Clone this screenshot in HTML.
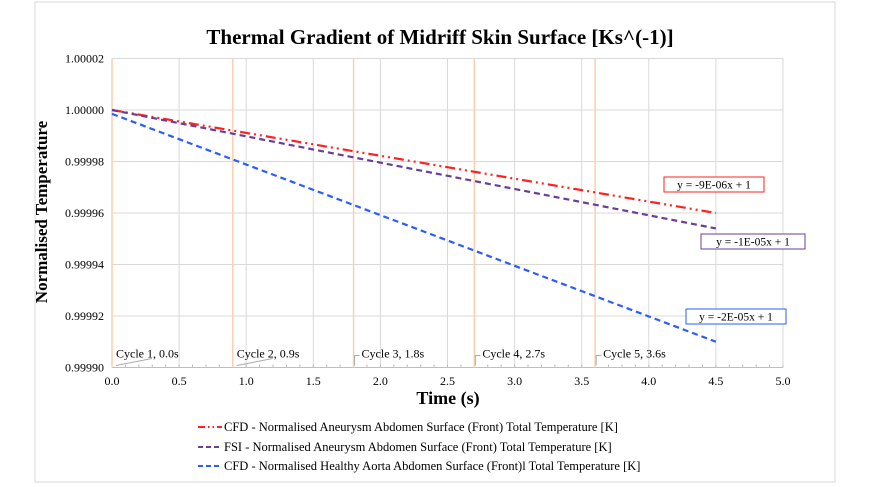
<!DOCTYPE html>
<html><head><meta charset="utf-8"><style>
body{margin:0;background:#fff;}
svg{display:block;font-family:"Liberation Serif",serif;}
</style></head><body>
<svg id="c" width="869" height="487">
<rect x="35" y="2" width="800" height="480" fill="#fff" stroke="#d9d9d9"/>
<text x="440" y="44" text-anchor="middle" font-size="21" font-weight="bold">Thermal Gradient of Midriff Skin Surface [Ks^(-1)]</text>
<text x="448" y="404" text-anchor="middle" font-size="18" font-weight="bold">Time (s)</text>
<text transform="translate(47,212) rotate(-90)" text-anchor="middle" font-size="17" font-weight="bold">Normalised Temperature</text>
<g id="grid"></g><g id="marks"></g><g id="legend"></g>
</svg>
<script>
const xTicks=[0,0.5,1,1.5,2,2.5,3,3.5,4,4.5,5];
const yTicks=[0.99990,0.99992,0.99994,0.99996,0.99998,1.00000,1.00002];
const cycleTimes=[0,0.9,1.8,2.7,3.6];
const cycleLabels=["Cycle 1, 0.0s","Cycle 2, 0.9s","Cycle 3, 1.8s","Cycle 4, 2.7s","Cycle 5, 3.6s"];
const seriesNames=["CFD - Normalised Aneurysm Abdomen Surface (Front) Total Temperature [K]","FSI - Normalised Aneurysm Abdomen Surface (Front) Total Temperature [K]","CFD - Normalised Healthy Aorta Abdomen Surface (Front)l Total Temperature [K]"];
const seriesX=[[0,4.5],[0,4.5],[0,4.5]];
const seriesY=[[1.0,0.999960],[1.0,0.999954],[0.9999985,0.99991]];
const trendLabels=["y = -9E-06x + 1","y = -1E-05x + 1","y = -2E-05x + 1"];
const colors=["#ff2020","#6a3d9a","#2a5cff"];
const dashes=["10,4,2,4,2,4","6,4","6,4"];
const NS="http://www.w3.org/2000/svg";
const X=v=>112+(v-0)/5*671;
const Y=v=>367.5-(v-0.9999)/0.00012*309;
function mk(t,a,p){const e=document.createElementNS(NS,t);for(const k in a)e.setAttribute(k,a[k]);p.appendChild(e);return e;}
const g=document.getElementById('grid'),m=document.getElementById('marks'),lg=document.getElementById('legend');
xTicks.forEach(v=>{
 const l=mk('line',{x1:X(v),x2:X(v),y1:Y(1.00002),y2:Y(0.9999),stroke:'#d9d9d9'},g);
 
 const t=mk('text',{x:X(v),y:385,'text-anchor':'middle','font-size':12},g);t.textContent=v.toFixed(1);
 
});
for(let v=0;v<=5.001;v+=0.1){const l=mk('line',{x1:X(v),x2:X(v),y1:Y(0.9999)-3,y2:Y(0.9999),stroke:'#bbb'},g);
 }
yTicks.forEach(v=>{
 const l=mk('line',{x1:X(0),x2:X(5),y1:Y(v),y2:Y(v),stroke:v===0.9999?'#bfbfbf':'#d9d9d9'},g);
 
 const t=mk('text',{x:104,y:Y(v)+4,'text-anchor':'end','font-size':12},g);t.textContent=v.toFixed(5);
 
});
cycleTimes.forEach((c,i)=>{
 const l=mk('line',{x1:X(c),x2:X(c),y1:Y(1.00002),y2:Y(0.9999),stroke:'#fbcfb2','stroke-width':1.5},g);
 
 const cl=mk('path',{d:i<2?`M${X(c)+4} ${Y(0.9999)-2} L${X(c)+40} ${Y(0.9999)-9}`:`M${X(c)+1} ${Y(0.9999)-2} V${Y(0.9999)-12} H${X(c)+6}`,stroke:'#aaa',fill:'none'},g);
 
 const t=mk('text',{x:X(c)+(i<2?4:8),y:Y(0.9999)-10,'font-size':12},g);t.textContent=cycleLabels[i];
 
});
const boxPos=[[664,177,100],[701,234,104],[686,309,100]];
seriesX.forEach((xs,i)=>{
 const pts=xs.map((x,j)=>X(x)+','+Y(seriesY[i][j])).join(' ');
 const p=mk('polyline',{points:pts,fill:'none',stroke:colors[i],'stroke-width':2.2,'stroke-dasharray':dashes[i]},m);
 
 const b=boxPos[i];
 const r=mk('rect',{x:b[0],y:b[1],width:b[2],height:15,fill:'#fff',stroke:colors[i]},m);
 
 const t=mk('text',{x:b[0]+b[2]/2,y:b[1]+11.5,'text-anchor':'middle','font-size':11.5},m);t.textContent=trendLabels[i];
 
 const ly=[427,447,466][i];
 const ll=mk('line',{x1:198,x2:222,y1:ly,y2:ly,stroke:colors[i],'stroke-width':2,'stroke-dasharray':i==0?'7,3,1.5,3,1.5,3':'5,3'},lg);
 
 const lt=mk('text',{x:224,y:ly+4,'font-size':12.5},lg);lt.textContent=seriesNames[i];
 
});
</script>
</body></html>
